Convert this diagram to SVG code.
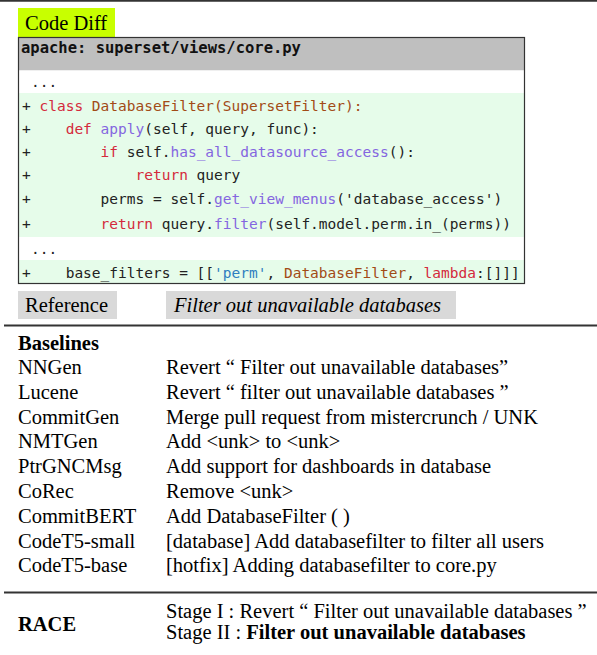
<svg xmlns="http://www.w3.org/2000/svg" width="597" height="655" viewBox="0 0 597 655" xml:space="preserve">
<style>
.serif{font-family:"Liberation Serif","Times New Roman",serif;font-size:20.5px;fill:#000}
.b{font-weight:bold}
.it{font-style:italic}
.mono{font-family:"DejaVu Sans Mono","Liberation Mono",monospace;font-size:14.5px;fill:#222;white-space:pre}
.hdr{font-family:"DejaVu Sans Mono","Liberation Mono",monospace;font-size:15.5px;font-weight:bold;fill:#111;white-space:pre}
.kw{fill:#d42a3c}
.cls{fill:#a24b16}
.fn{fill:#8466e0}
.str{fill:#2f7fc0}
.add{fill:#e6fcea}
.rule{stroke:#333;stroke-width:1.8}
</style>
<rect width="597" height="655" fill="#fff"/>
<g id="rules">
<line class="rule" x1="0" y1="0.8" x2="597" y2="0.8"/>
<line class="rule" x1="4" y1="325.5" x2="597" y2="325.5"/>
<line class="rule" x1="4" y1="592.5" x2="597" y2="592.5"/>
</g>
<g id="code-diff-label">
<rect x="18" y="8" width="97" height="29" fill="#c8ff00"/>
<text class="serif" x="25" y="29.5">Code Diff</text>
</g>
<g id="code-diff">
<rect x="18.5" y="37.5" width="506" height="33" fill="#bfbfbf"/>
<rect x="18.5" y="70.5" width="506" height="23" fill="#fff"/>
<rect class="add" x="18.5" y="93" width="506" height="144"/>
<rect x="18.5" y="237" width="506" height="23" fill="#fff"/>
<rect class="add" x="18.5" y="260" width="506" height="23"/>
<rect x="18.5" y="37.5" width="506" height="246" fill="none" stroke="#333" stroke-width="1.2"/>
<text class="hdr" x="21" y="53">apache: superset/views/core.py</text>
<text class="mono" x="31" y="87">...</text>
<text class="mono" x="22" y="110.5">+ <tspan class="kw">class</tspan> <tspan class="cls">DatabaseFilter(SupersetFilter):</tspan></text>
<text class="mono" x="22" y="133.5">+    <tspan class="kw">def</tspan> <tspan class="fn">apply</tspan>(self, query, func):</text>
<text class="mono" x="22" y="157">+        <tspan class="kw">if</tspan> self.<tspan class="fn">has_all_datasource_access</tspan>():</text>
<text class="mono" x="22" y="180">+            <tspan class="kw">return</tspan> query</text>
<text class="mono" x="22" y="203.5">+        perms = self.<tspan class="fn">get_view_menus</tspan>('database_access')</text>
<text class="mono" x="22" y="229">+        <tspan class="kw">return</tspan> query.<tspan class="fn">filter</tspan>(self.model.perm.in_(perms))</text>
<text class="mono" x="31" y="254">...</text>
<text class="mono" x="22" y="277.5">+    base_filters = [[<tspan class="str">'perm'</tspan>, <tspan class="cls">DatabaseFilter</tspan>, <tspan class="kw">lambda</tspan>:[]]]</text>
</g>
<g id="reference">
<rect x="18" y="291" width="99" height="28" fill="#d9d9d9"/>
<text class="serif" x="25" y="312">Reference</text>
<rect x="166" y="291" width="290" height="28" fill="#d9d9d9"/>
<text class="serif it" x="174" y="312">Filter out unavailable databases</text>
</g>
<g id="baselines">
<text class="serif b" x="18" y="350">Baselines</text>
<text class="serif" x="18" y="374">NNGen</text>
<text class="serif" x="166" y="374">Revert “ Filter out unavailable databases”</text>
<text class="serif" x="18" y="398.8">Lucene</text>
<text class="serif" x="166" y="398.8">Revert “ filter out unavailable databases ”</text>
<text class="serif" x="18" y="423.6">CommitGen</text>
<text class="serif" x="166" y="423.6">Merge pull request from mistercrunch / UNK</text>
<text class="serif" x="18" y="448.4">NMTGen</text>
<text class="serif" x="166" y="448.4">Add &lt;unk&gt; to &lt;unk&gt;</text>
<text class="serif" x="18" y="473.2">PtrGNCMsg</text>
<text class="serif" x="166" y="473.2">Add support for dashboards in database</text>
<text class="serif" x="18" y="498">CoRec</text>
<text class="serif" x="166" y="498">Remove &lt;unk&gt;</text>
<text class="serif" x="18" y="522.8">CommitBERT</text>
<text class="serif" x="166" y="522.8">Add DatabaseFilter ( )</text>
<text class="serif" x="18" y="547.6">CodeT5-small</text>
<text class="serif" x="166" y="547.6">[database] Add databasefilter to filter all users</text>
<text class="serif" x="18" y="572.4">CodeT5-base</text>
<text class="serif" x="166" y="572.4">[hotfix] Adding databasefilter to core.py</text>
</g>
<g id="race">
<text class="serif b" x="18" y="630.5">RACE</text>
<text class="serif" x="166" y="618">Stage I : Revert “ Filter out unavailable databases ”</text>
<text class="serif" x="166" y="639">Stage II : <tspan class="b">Filter out unavailable databases</tspan></text>
</g>
</svg>
